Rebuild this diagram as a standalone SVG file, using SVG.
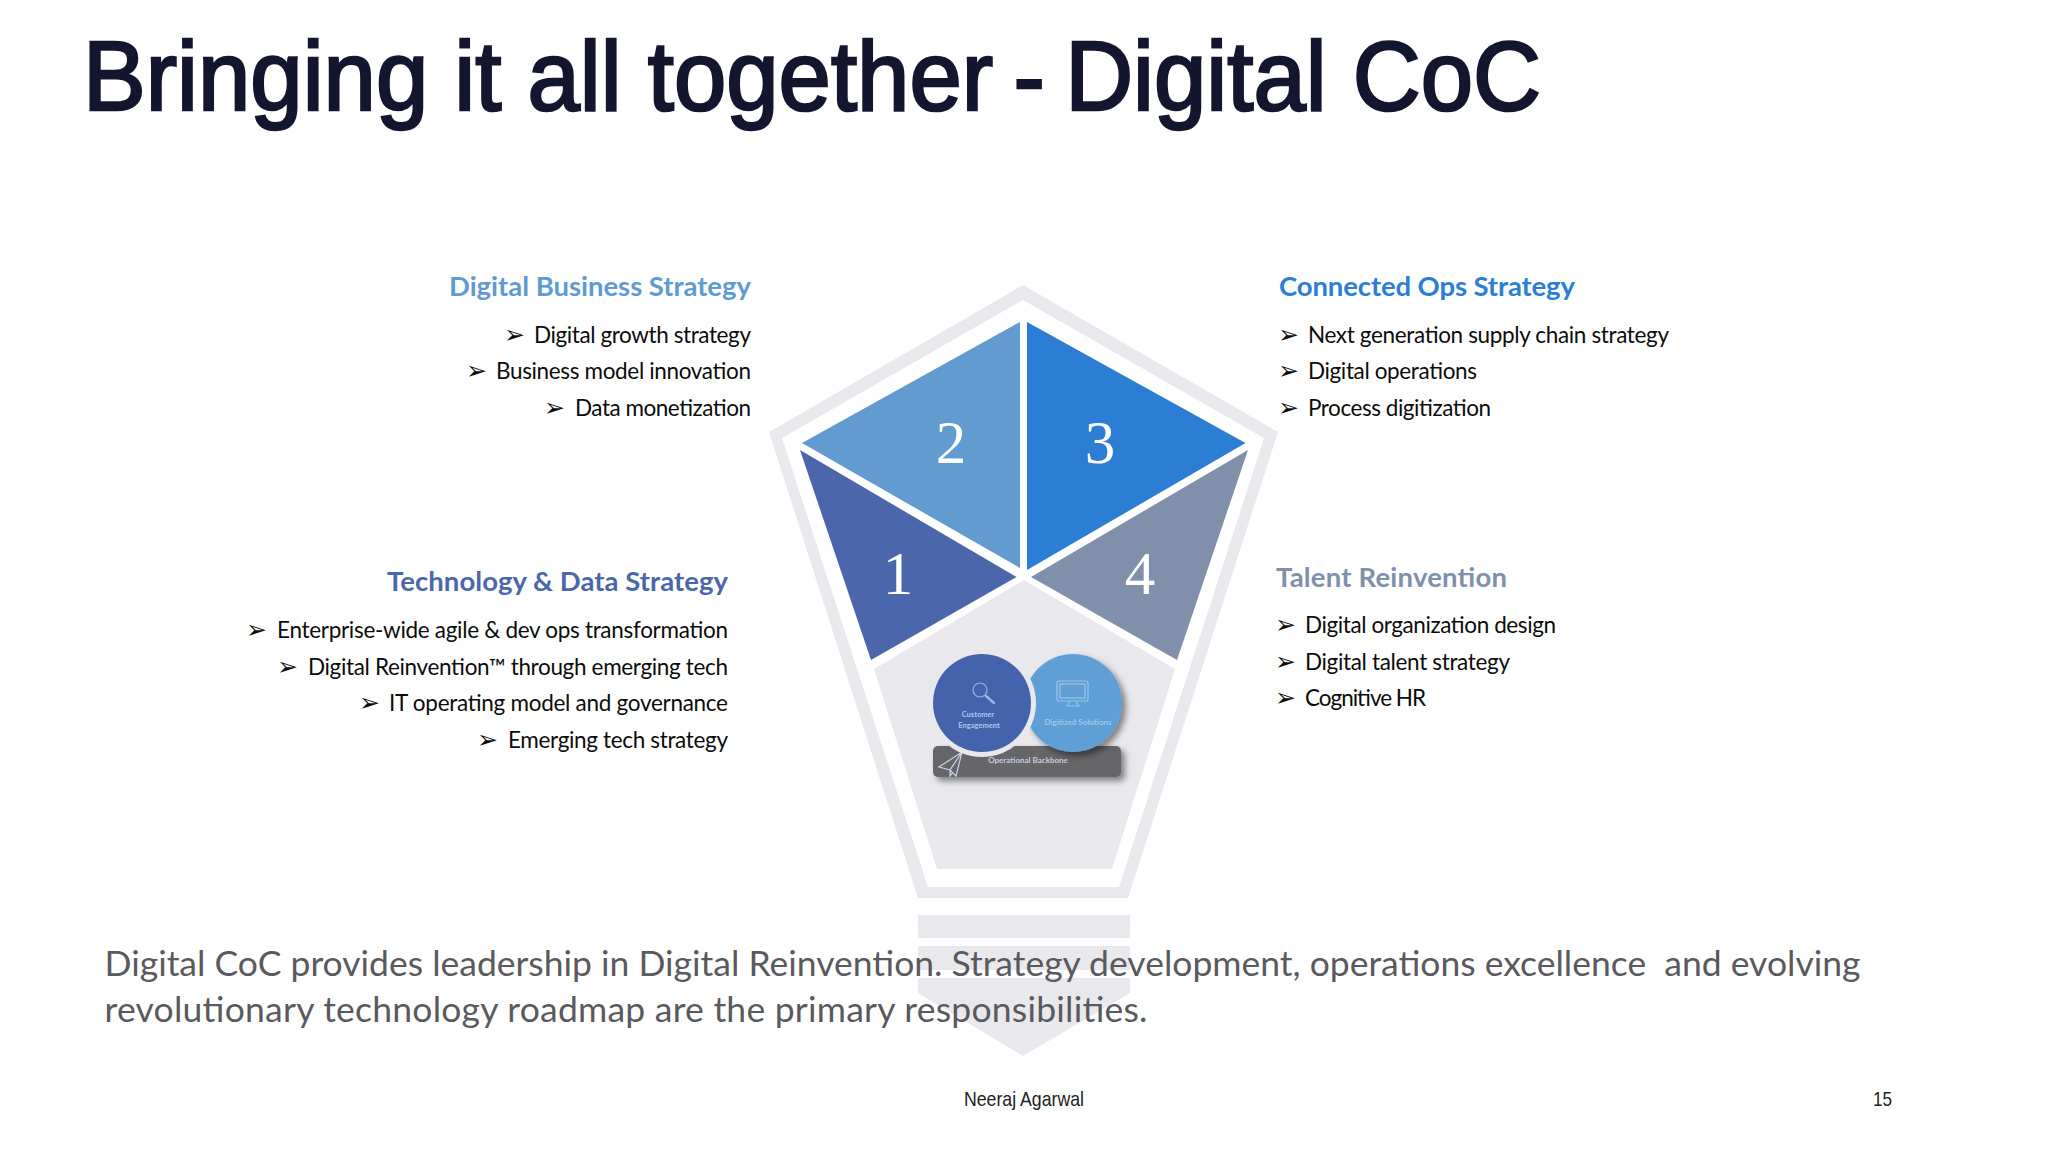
<svg xmlns="http://www.w3.org/2000/svg" width="2048" height="1152" viewBox="0 0 2048 1152">
<defs>
<filter id="sh" x="-20%" y="-20%" width="150%" height="150%"><feDropShadow dx="4" dy="4" stdDeviation="3" flood-color="#000" flood-opacity="0.45"/></filter>
</defs>
<style>
text{font-variant-ligatures:none}
.g{fill:#e9e8ec}
.h{font:700 27.5px Lato,"Liberation Sans",sans-serif}
.i{font:400 22.5px Lato,"Liberation Sans",sans-serif;fill:#0c0c0c}
.b{font:25px "DejaVu Sans",sans-serif;fill:#0c0c0c}
.n{font:400 61px "Liberation Serif",serif;fill:#fff;text-anchor:middle}
.m{font:700 7.5px Lato,sans-serif;text-anchor:middle}
.f{font:400 21px "Liberation Sans",sans-serif;fill:#222}
.d{font:400 35.5px Lato,sans-serif;fill:#5a5a5e;white-space:pre}
.ic{fill:none;stroke-width:1.2}
</style>
<rect width="2048" height="1152" fill="#fff"/>
<text id="title" x="83" y="110" textLength="1458" lengthAdjust="spacingAndGlyphs" style="font:400 98px 'Liberation Sans',sans-serif;fill:#14152e;stroke:#14152e;stroke-width:2.6">Bringing it all together<tspan style="word-spacing:-6px"> - </tspan>Digital CoC</text>

<g id="bulb">
<path class="g" fill-rule="evenodd" d="M1023 285L1278 432L1128 898H918L769 432ZM1023 300L782 438L928 887H1119L1264 438Z"/>
<rect class="g" x="918" y="915" width="212" height="23"/>
<rect class="g" x="918" y="946" width="212" height="24"/>
<path class="g" d="M918 978H1130V993L1023 1056L918 993Z"/>
</g>
<g id="segment-5">
<path class="g" d="M1024 580L1175 669L1112 869H937L874 669Z"/>
</g>
<g id="segment-1"><path fill="#4c66ab" d="M800 450L1016.5 577L871 660Z"/><text class="n" x="898" y="594">1</text></g>
<g id="segment-2"><path fill="#619bd0" d="M1020 322V568L802 443Z"/><text class="n" x="951" y="463">2</text></g>
<g id="segment-3"><path fill="#2b7ed4" d="M1027 322L1245.5 443L1027 570Z"/><text class="n" x="1100" y="463">3</text></g>
<g id="segment-4"><path fill="#8090aa" d="M1248 450L1177 660L1031 577Z"/><text class="n" x="1140" y="594">4</text></g>

<g id="backbone">
<rect x="933" y="746" width="188" height="31" rx="5" fill="#666668" filter="url(#sh)"/>
<path class="ic" stroke="#c9d3e8" d="M962 752L939 767L950 770L956 776L962 752ZM962 752L950 770L950 776L953 772"/>
<text class="m" x="1028" y="763" fill="#c5cde0" style="font-size:8px">Operational Backbone</text>
</g>
<g id="digitized">
<circle cx="1073" cy="703" r="49" fill="#5f9fd6" filter="url(#sh)"/>
<rect class="ic" stroke="#9cc6ea" x="1057" y="681" width="31" height="20" rx="2"/>
<rect class="ic" stroke="#9cc6ea" x="1060" y="684" width="25" height="14"/>
<path class="ic" stroke="#9cc6ea" d="M1070 701L1068 705M1076 701L1078 705M1066 706H1080"/>
<text class="m" x="1078" y="725" fill="#9ccaf0" style="font-size:8px">Digitized Solutions</text>
</g>
<g id="customer">
<circle cx="982" cy="703" r="54" fill="#e9e8ec"/>
<circle cx="982" cy="703" r="49" fill="#4562ad"/>
<circle class="ic" stroke="#9fb4e2" cx="980" cy="690" r="7"/>
<path stroke="#9fb4e2" stroke-width="2.4" stroke-linecap="round" fill="none" d="M986 696L994 703"/>
<text class="m" x="978" y="717" fill="#b0c4ec">Customer</text>
<text class="m" x="979" y="728" fill="#b0c4ec">Engagement</text>
</g>

<g id="digital-business">
<text class="h" x="449" y="296" textLength="302" fill="#5f9bd0">Digital Business Strategy</text>
<text class="b" x="504" y="343">➢</text><text class="i" x="534" y="343" textLength="217">Digital growth strategy</text>
<text class="b" x="466" y="379">➢</text><text class="i" x="496" y="379" textLength="255">Business model innovation</text>
<text class="b" x="544" y="416">➢</text><text class="i" x="575" y="416" textLength="176">Data monetization</text>
</g>
<g id="connected-ops">
<text class="h" x="1279" y="296" textLength="296" fill="#2b7ed4">Connected Ops Strategy</text>
<text class="b" x="1278" y="343">➢</text><text class="i" x="1308" y="343" textLength="361">Next generation supply chain strategy</text>
<text class="b" x="1278" y="379">➢</text><text class="i" x="1308" y="379" textLength="169">Digital operations</text>
<text class="b" x="1278" y="416">➢</text><text class="i" x="1308" y="416" textLength="183">Process digitization</text>
</g>
<g id="technology-data">
<text class="h" x="387" y="591" textLength="341" fill="#4c66ab">Technology &amp; Data Strategy</text>
<text class="b" x="246" y="638">➢</text><text class="i" x="277" y="638" textLength="451">Enterprise-wide agile &amp; dev ops transformation</text>
<text class="b" x="277" y="675">➢</text><text class="i" x="308" y="675" textLength="420">Digital Reinvention™ through emerging tech</text>
<text class="b" x="359" y="711">➢</text><text class="i" x="389" y="711" textLength="339">IT operating model and governance</text>
<text class="b" x="477" y="748">➢</text><text class="i" x="508" y="748" textLength="220">Emerging tech strategy</text>
</g>
<g id="talent">
<text class="h" x="1276" y="587" textLength="231" fill="#8090aa">Talent Reinvention</text>
<text class="b" x="1275" y="633">➢</text><text class="i" x="1305" y="633" textLength="251">Digital organization design</text>
<text class="b" x="1275" y="670">➢</text><text class="i" x="1305" y="670" textLength="205">Digital talent strategy</text>
<text class="b" x="1275" y="706">➢</text><text class="i" x="1305" y="706" textLength="121">Cognitive HR</text>
</g>

<text class="d" x="104.5" y="976" textLength="1756">Digital CoC provides leadership in Digital Reinvention. Strategy development, operations excellence  and evolving</text>
<text class="d" x="104.5" y="1022" textLength="1043">revolutionary technology roadmap are the primary responsibilities.</text>
<text class="f" x="964" y="1106" textLength="120" lengthAdjust="spacingAndGlyphs">Neeraj Agarwal</text>
<text class="f" x="1873" y="1106" textLength="19" lengthAdjust="spacingAndGlyphs">15</text>
</svg>
